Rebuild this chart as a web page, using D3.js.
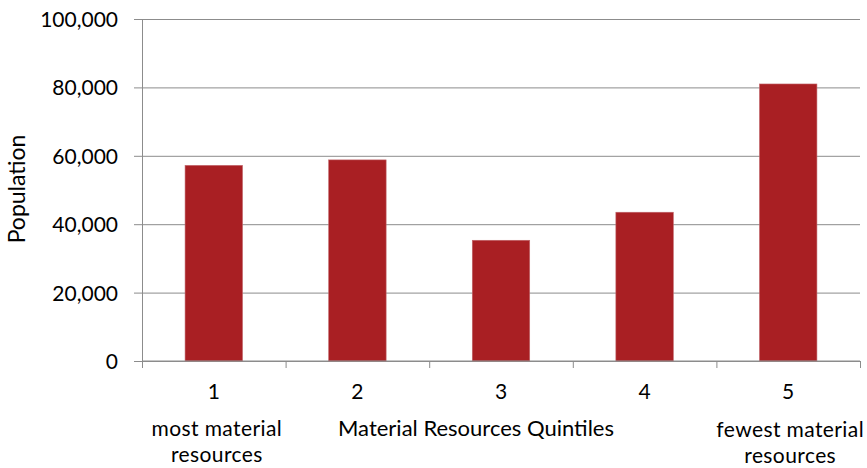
<html>
<head>
<meta charset="utf-8">
<title>Population by Material Resources Quintile</title>
<style>
body{margin:0;background:#fff;}
text{font-family:Lato,"Open Sans",sans-serif;fill:#000;}
</style>
<script src="https://d3js.org/d3.v7.min.js"></script>
</head>
<body>
<svg width="867" height="468"></svg>
<script>
// data
var quintiles = ["1","2","3","4","5"];
var population = [57200, 58800, 35300, 43500, 81000];
var yTicks = [0, 20000, 40000, 60000, 80000, 100000];

var svg = d3.select("svg"),
    margin = {top: 19, right: 7, bottom: 107, left: 142},
    width = +svg.attr("width") - margin.left - margin.right,
    height = +svg.attr("height") - margin.top - margin.bottom,
    g = svg.append("g").attr("transform", `translate(${margin.left},${margin.top})`);

var x = d3.scaleBand().domain(quintiles).range([0, width]).paddingInner(0.6).paddingOuter(0.3);
var xEdge = d3.scaleLinear().domain([0, quintiles.length]).range([0, width]);
var y = d3.scaleLinear().domain([0, 100000]).range([height, 0]);

// gridlines + y axis
var yAxis = g.append("g")
    .call(d3.axisLeft(y).tickValues(yTicks).tickFormat(d3.format(",")).tickSize(8).tickPadding(16));
yAxis.select(".domain").attr("stroke", "#8c8c8c");
yAxis.selectAll(".tick line").attr("stroke", "#8c8c8c");
yAxis.selectAll("text").style("font-size", "21px").attr("dy", "0.36em");
yAxis.selectAll(".tick").append("line")
    .attr("x1", 0).attr("x2", width)
    .attr("stroke", "#8c8c8c");

// bars
g.selectAll(".bar")
  .data(population)
  .enter().append("rect")
    .attr("class", "bar")
    .attr("x", (d, i) => x(quintiles[i]))
    .attr("width", x.bandwidth())
    .attr("y", d => y(d))
    .attr("height", d => height - y(d))
    .attr("fill", "#a91f23")
    .attr("stroke", "#c0646a")
    .attr("stroke-width", 0.6);

// x axis
var xg = g.append("g").attr("transform", `translate(0,${height})`);
xg.append("line").attr("x1", 0).attr("x2", width).attr("stroke", "#8c8c8c");
xg.selectAll(".xt")
  .data(d3.range(quintiles.length + 1))
  .enter().append("line")
    .attr("x1", d => xEdge(d) + 0.5).attr("x2", d => xEdge(d) + 0.5)
    .attr("y1", 0).attr("y2", 7)
    .attr("stroke", "#8c8c8c");
xg.selectAll(".xl")
  .data(quintiles)
  .enter().append("text")
    .attr("x", d => x(d) + x.bandwidth() / 2)
    .attr("y", 38)
    .attr("text-anchor", "middle")
    .style("font-size", "21px")
    .text(d => d);

// category notes under the axis
var notes = [
  {q: "1", lines: ["most material", "resources"], y: 75},
  {q: "5", lines: ["fewest material", "resources"], y: 76}
];
notes.forEach(n => {
  var t = xg.append("text")
    .attr("text-anchor", "middle")
    .style("font-size", "21px")
    .style("letter-spacing", "0.4px");
  n.lines.forEach((s, i) => {
    t.append("tspan")
      .attr("x", x(n.q) + x.bandwidth() / 2 + (n.q == "5" ? 2 : 3))
      .attr("y", n.y + i * 25.5)
      .text(s);
  });
});

// axis titles
xg.append("text")
    .attr("x", (x("3") + x.bandwidth() / 2) - 25)
    .attr("y", 75)
    .attr("text-anchor", "middle")
    .style("font-size", "22px")
    .text("Material Resources Quintiles");

svg.append("text")
    .attr("transform", `translate(25,189) rotate(-90)`)
    .attr("text-anchor", "middle")
    .style("font-size", "23px")
    .text("Population");
</script>
</body>
</html>
